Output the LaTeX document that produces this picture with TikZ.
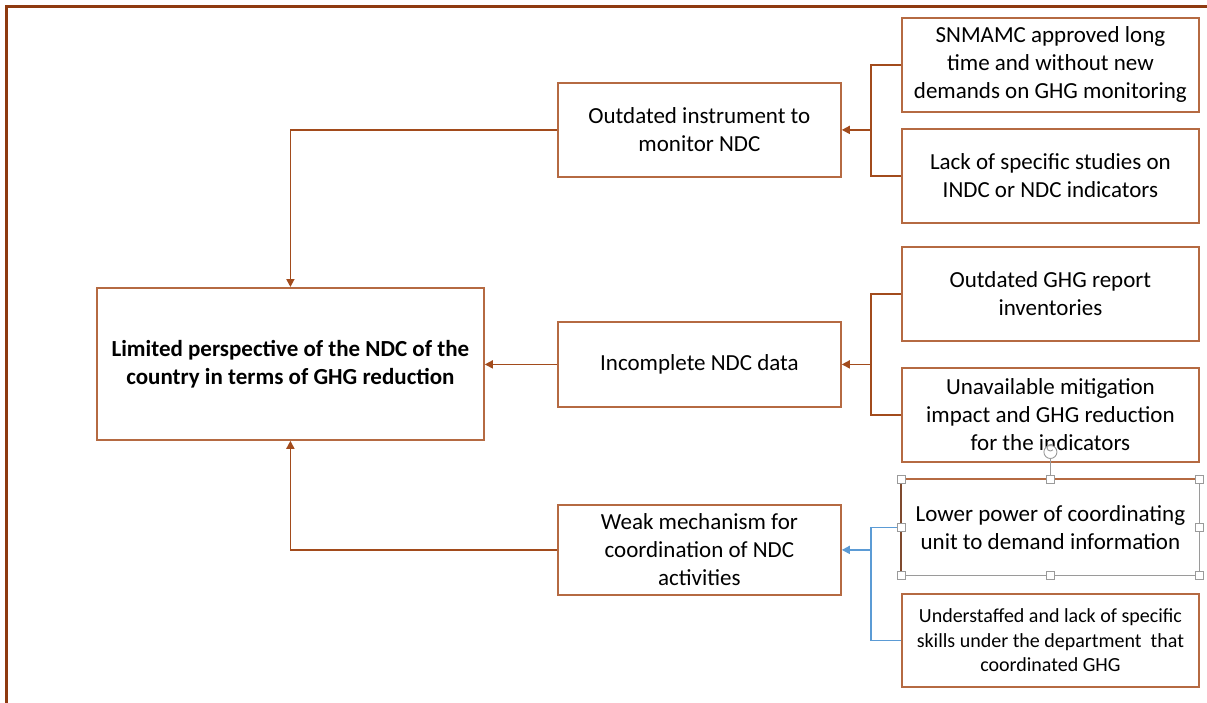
\documentclass[tikz,border=0pt]{standalone}
\usepackage{fontspec}
\setmainfont{Carlito}
\usetikzlibrary{arrows.meta,calc}
\definecolor{framebrown}{HTML}{8E3A10}
\definecolor{boxbrown}{HTML}{B56A42}
\definecolor{linkbrown}{HTML}{A24B1C}
\definecolor{linkblue}{HTML}{5B9BD5}
\definecolor{handlegray}{HTML}{9A9A9A}
\tikzset{
  causebox/.style={draw=boxbrown, line width=1.8pt, anchor=north west, align=center,
    inner sep=0pt, font=\fontsize{23}{28}\selectfont},
  link/.style={draw=linkbrown, line width=1.7pt},
  bluelink/.style={draw=linkblue, line width=1.7pt},
  tip/.style={-{Triangle[length=8pt,width=8pt]}},
  handle/.style={draw=handlegray, fill=white, line width=0.9pt, minimum size=8pt,
    inner sep=0pt, rectangle}
}
\begin{document}
\begin{tikzpicture}[x=1pt,y=-1pt]
  \useasboundingbox (0,0) rectangle (1207,702);
  % page frame
  \draw[framebrown, line width=3pt] (6,710) -- (6,6) -- (1215,6);

  % central problem
  \node[causebox, minimum width=387pt, minimum height=152pt,
        font=\fontsize{23}{28}\selectfont\bfseries] (main) at (96,287)
    {Limited perspective of the NDC of the\\country in terms of GHG reduction};

  % direct causes
  \node[causebox, minimum width=283pt, minimum height=94pt] (inst) at (557,82)
    {Outdated instrument to\\monitor NDC};
  \node[causebox, minimum width=283pt, minimum height=85pt] (data) at (557,321)
    {Incomplete NDC data};
  \node[causebox, minimum width=283pt, minimum height=90pt] (weak) at (557,504)
    {Weak mechanism for\\coordination of NDC\\activities};

  % root causes
  \node[causebox, minimum width=297pt, minimum height=94pt] (r1) at (901,17)
    {SNMAMC approved long\\time and without new\\demands on GHG monitoring};
  \node[causebox, minimum width=297pt, minimum height=94pt] (r2) at (901,128)
    {Lack of specific studies on\\INDC or NDC indicators};
  \node[causebox, minimum width=297pt, minimum height=94pt] (r3) at (901,246)
    {Outdated GHG report\\inventories};
  \node[causebox, minimum width=297pt, minimum height=94pt] (r4) at (901,367)
    {Unavailable mitigation\\impact and GHG reduction\\for the indicators};
  \node[causebox, draw=none, minimum width=297pt, minimum height=95pt] (r5) at (901,479)
    {Lower power of coordinating\\unit to demand information};
  \node[causebox, minimum width=297pt, minimum height=93pt,
        font=\fontsize{20}{24.5}\selectfont] (r6) at (901,593)
    {Understaffed and lack of specific\\skills under the department\ \ that\\coordinated GHG};

  % brackets joining root causes to direct causes
  \coordinate (j) at (871,0);
  \draw[link] (r1.west) -- (r1.west -| j) -- (r2.west -| j) -- (r2.west);
  \draw[link, tip] (inst.east -| j) -- (inst.east);
  \draw[link] (r3.west) -- (r3.west -| j) -- (r4.west -| j) -- (r4.west);
  \draw[link, tip] (data.east -| j) -- (data.east);
  \draw[bluelink] (r5.west) -- (r5.west -| j) -- (r6.west -| j) -- (r6.west);
  \draw[bluelink, tip] (weak.east -| j) -- (weak.east);

  % direct causes into the central problem
  \draw[link, tip] (inst.west) -| (main.north);
  \draw[link, tip] (data.west) -- (data.west -| main.east);
  \draw[link, tip] (weak.west) -| (main.south);

  % coordinating-unit box, shown selected: brown edges under a gray frame
  \draw[boxbrown!70!black, line width=1.8pt] (r5.south west) -- (r5.north west);
  \draw[boxbrown, line width=1.8pt] (r5.north west) -- (r5.north east);
  \draw[handlegray, line width=1.2pt] (r5.north east) -- (r5.south east) -- (r5.south west);
  \draw[handlegray, line width=0.9pt] (r5.north) -- ++(0,-21);
  % rotation handle with its curled-arrow mark
  \coordinate (rot) at ($(r5.north)+(0,-27)$);
  \draw[handlegray, fill=white, line width=0.9pt] (rot) circle (6.5pt);
  \draw[handlegray, line width=0.9pt] ($(rot)+(2.6,-2.2)$) arc (-40:-320:3.4pt);
  \foreach \a in {north west,north,north east,east,south east,south,south west,west}
    \node[handle] at (r5.\a) {};
\end{tikzpicture}
\end{document}
